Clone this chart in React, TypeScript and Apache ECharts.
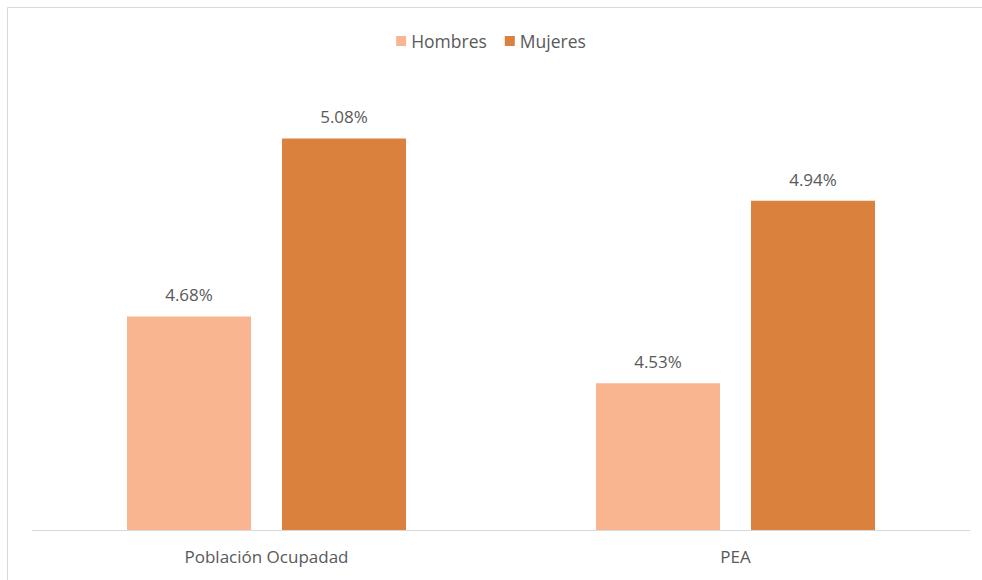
import React, { useEffect, useRef } from "react";
import * as echarts from "echarts";

const categories = ["Población Ocupadad", "PEA"];
const hombres = [4.68, 4.53];
const mujeres = [5.08, 4.94];
const seriesNames = ["Hombres", "Mujeres"];

export default function App() {
  const ref = useRef<HTMLDivElement>(null);
  useEffect(() => {
    const chart = echarts.init(ref.current!, null, { renderer: "svg" });
    const font = "'Open Sans', 'Noto Sans', sans-serif";
    const label = {
      show: true,
      position: "top",
      distance: 13,
      color: "#595959",
      fontSize: 17,
      fontFamily: font,
      formatter: (p: any) => p.value.toFixed(2) + "%",
    };
    chart.setOption({
      animation: false,
      backgroundColor: "#ffffff",
      textStyle: { fontFamily: font },
      graphic: [
        {
          type: "rect",
          shape: { x: 7.5, y: 7.5, width: 1000, height: 600 },
          style: { fill: "none", stroke: "#d9d9d9", lineWidth: 1 },
          silent: true,
        },
      ],
      legend: {
        top: 27,
        left: "center",
        itemWidth: 10,
        itemHeight: 10,
        itemGap: 18,
        icon: "rect",
        textStyle: { color: "#595959", fontSize: 17.5, fontFamily: font },
        data: seriesNames,
      },
      grid: { left: 32, right: 12, top: 85, bottom: 50, containLabel: false },
      xAxis: {
        type: "category",
        data: categories,
        axisLine: { lineStyle: { color: "#d9d9d9", width: 1 } },
        axisTick: { show: false },
        axisLabel: { color: "#595959", fontSize: 17, margin: 18, fontFamily: font },
      },
      yAxis: {
        type: "value",
        min: 4.2,
        max: 5.2,
        show: false,
        splitLine: { show: false },
      },
      series: [
        {
          name: seriesNames[0],
          type: "bar",
          data: hombres,
          barWidth: 124,
          barGap: "25%",
          itemStyle: { color: "#F8B58F" },
          label,
        },
        {
          name: seriesNames[1],
          type: "bar",
          data: mujeres,
          barWidth: 124,
          barGap: "25%",
          itemStyle: { color: "#D9813D" },
          label,
        },
      ],
    });
    return () => chart.dispose();
  }, []);
  return (
    <div
      ref={ref}
      style={{ position: "absolute", left: 0, top: 0, width: 982, height: 580 }}
    />
  );
}
